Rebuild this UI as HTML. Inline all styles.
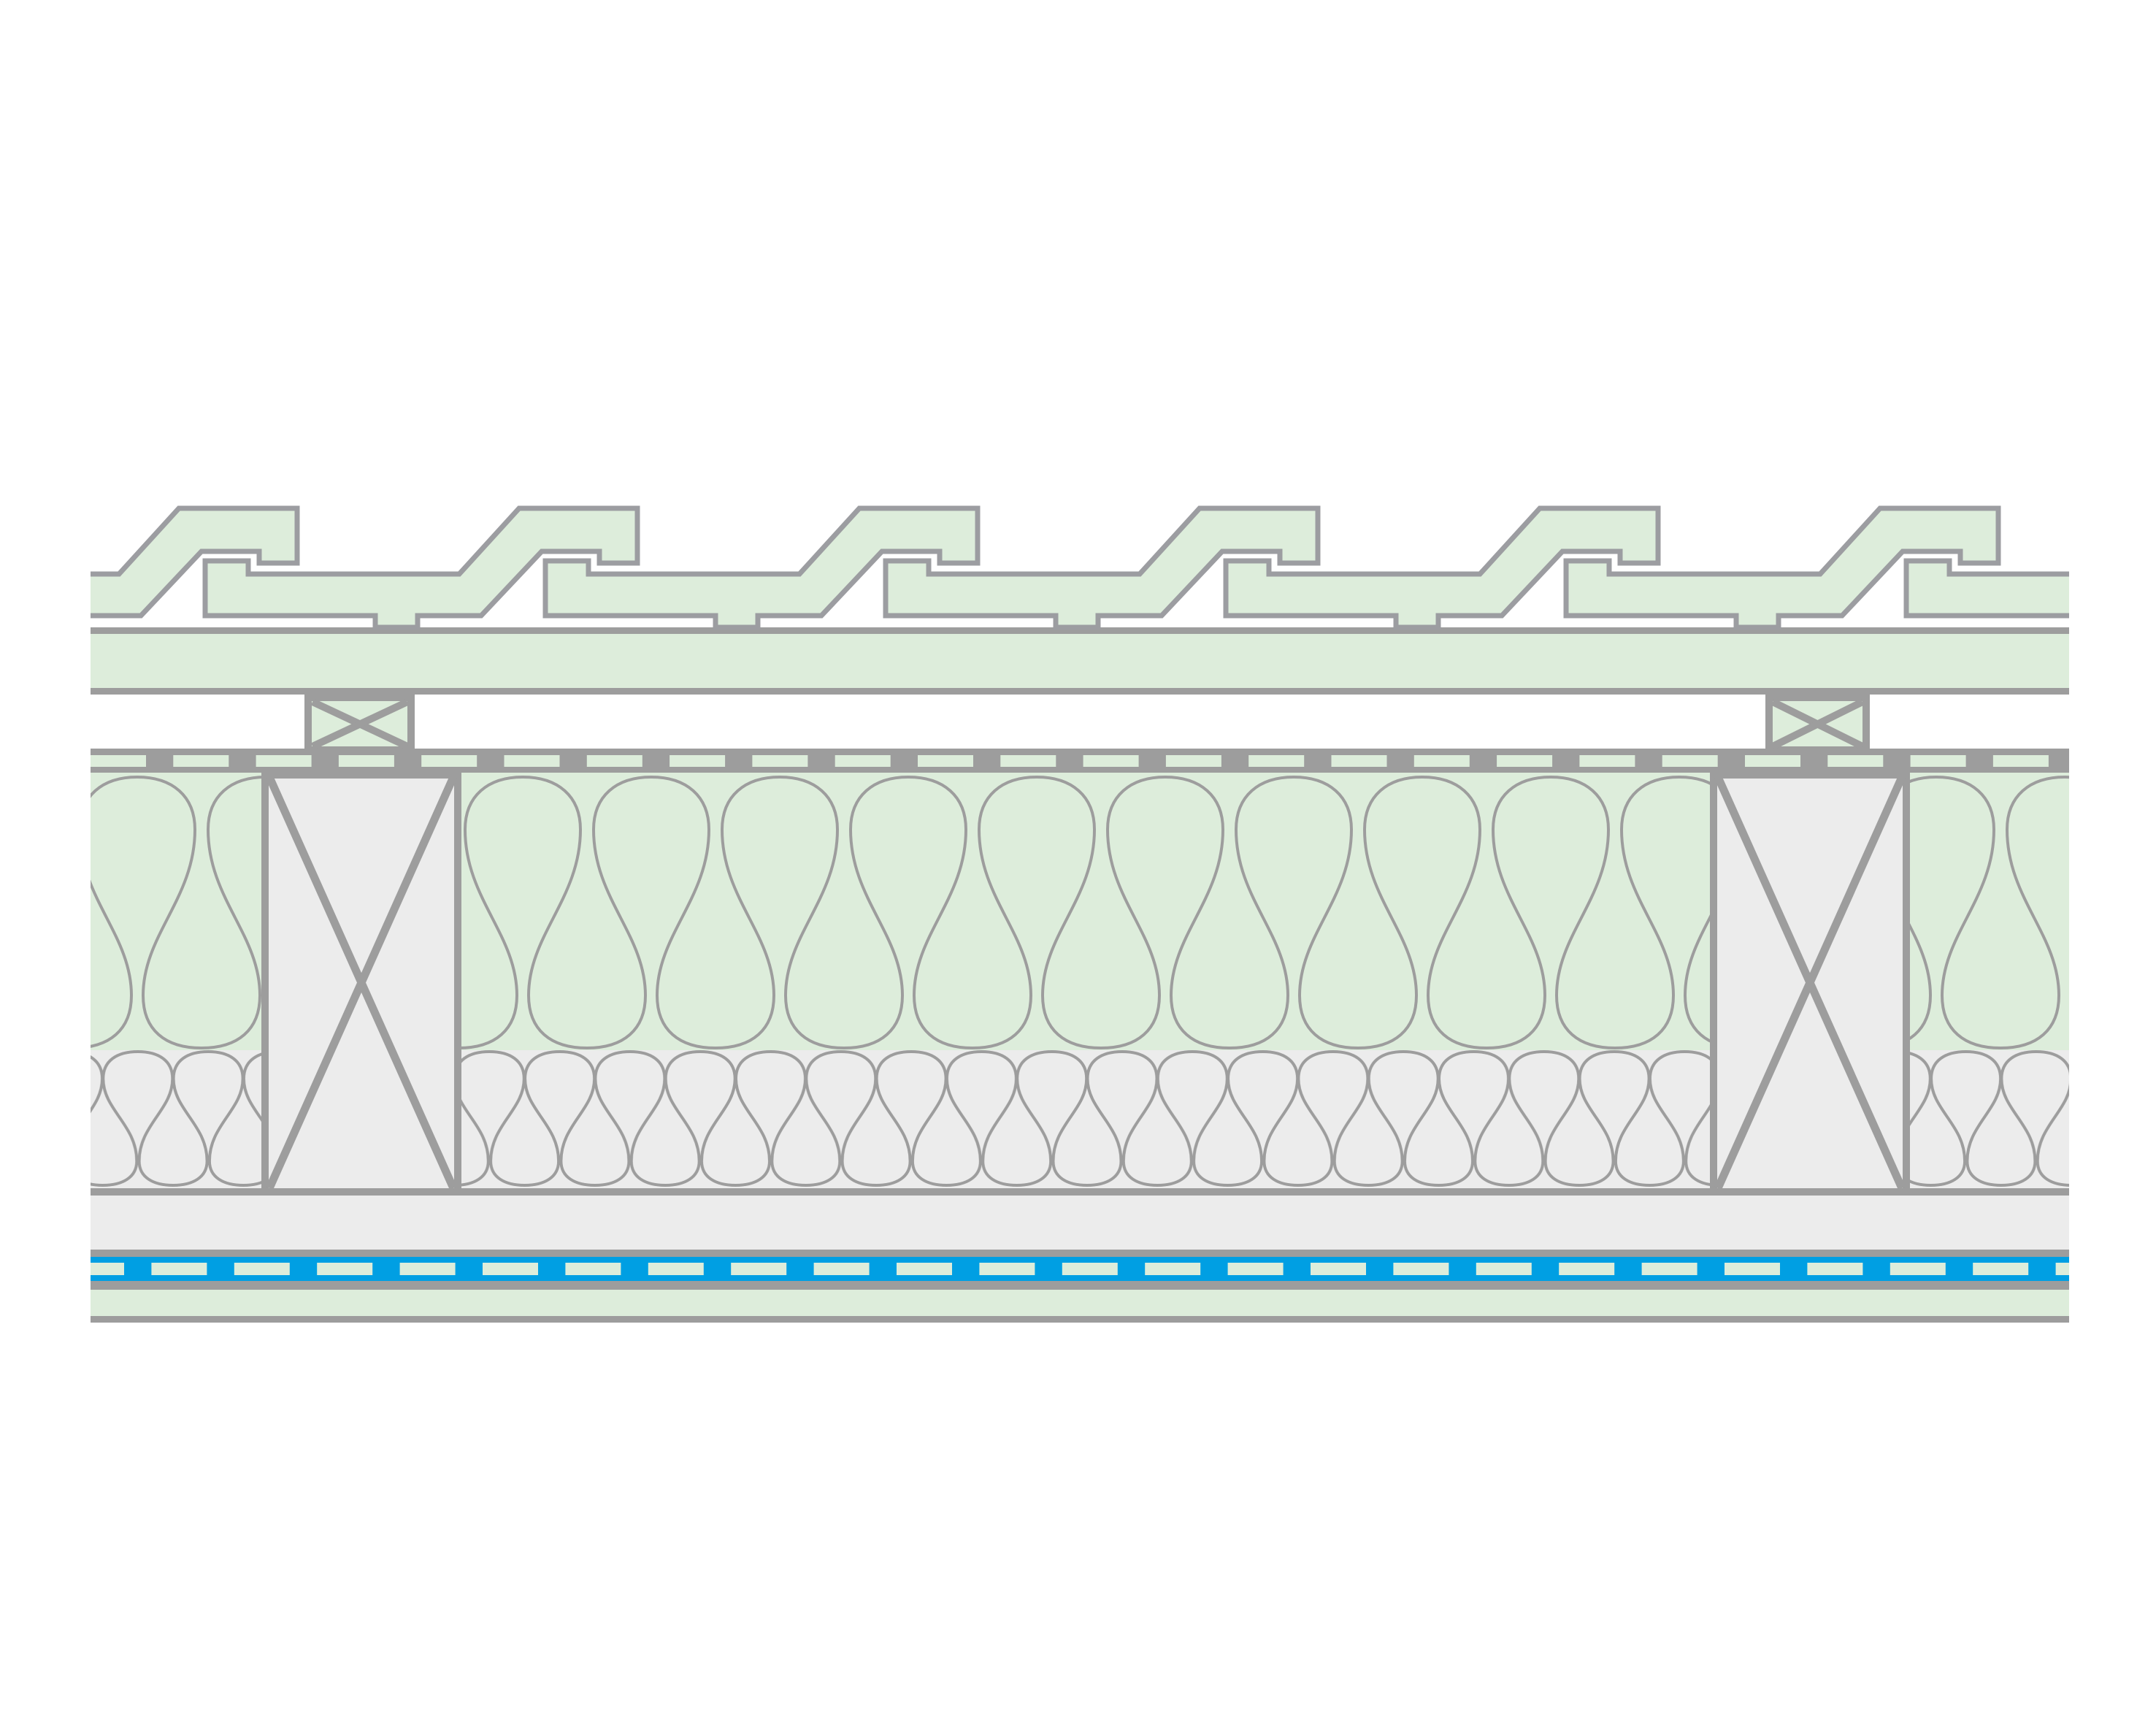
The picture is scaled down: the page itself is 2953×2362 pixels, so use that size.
<!DOCTYPE html>
<html><head><meta charset="utf-8"><style>html,body{margin:0;padding:0;background:#fff}svg{display:block}</style></head>
<body>
<svg width="2953" height="2362" viewBox="0 0 2953 2362" xmlns="http://www.w3.org/2000/svg">
<defs>
<clipPath id="cl"><rect x="124" y="0" width="2710" height="2362"/></clipPath>
<path id="tile" d="M0,768 H59 V786 H348 L430,696 H592 V771 H540 V755 H461 L378,843 H291 V859 H233 V843 H0 Z" fill="#ddeddb" stroke="#9c9da1" stroke-width="7"/>
<path id="up" d="M0,1435 C50,1435 80,1410 80,1363 C80,1280 9,1230 9,1136 C9,1090 40,1064 88,1064 C136,1064 167,1090 167,1136 C167,1230 96,1280 96,1363 C96,1410 126,1435 176,1435" fill="none" stroke="#9d9d9d" stroke-width="4"/>
<path id="lo" d="M0,1623 C27,1623 46.5,1612 46.5,1590 C46.5,1540 0.5,1520 0.5,1477 C0.5,1452 20,1440 48,1440 C76,1440 95.5,1452 95.5,1477 C95.5,1520 49.8,1540 49.8,1590 C49.8,1612 69,1623 96.3,1623" fill="none" stroke="#9d9d9d" stroke-width="4"/>
<pattern id="pu" patternUnits="userSpaceOnUse" x="100" y="0" width="176" height="2362">
<use href="#up" x="-176"/><use href="#up"/><use href="#up" x="176"/>
</pattern>
<pattern id="pl" patternUnits="userSpaceOnUse" x="44.5" y="0" width="96.3" height="2362">
<use href="#lo" x="-96.3"/><use href="#lo"/><use href="#lo" x="96.3"/>
</pattern>
</defs>
<g clip-path="url(#cl)">
<!-- board -->
<rect x="124" y="859" width="2710" height="92" fill="#9d9d9d"/>
<rect x="124" y="868" width="2710" height="74" fill="#ddeddb"/>
<!-- tiles -->
<use href="#tile" x="-185"/><use href="#tile" x="281"/><use href="#tile" x="747"/><use href="#tile" x="1213"/><use href="#tile" x="1679"/><use href="#tile" x="2145"/><use href="#tile" x="2611"/>
<!-- counter battens -->
<g fill="#ddeddb" stroke="#9d9d9d" stroke-width="10">
<rect x="422" y="955" width="141" height="72"/>
<line x1="428" y1="961" x2="558" y2="1022"/><line x1="558" y1="961" x2="428" y2="1022"/>
<rect x="2423" y="955" width="133" height="72"/>
<line x1="2428" y1="961" x2="2551" y2="1022"/><line x1="2551" y1="961" x2="2428" y2="1022"/>
</g>
<!-- dashed membrane -->
<rect x="124" y="1025" width="2710" height="33" fill="#9d9d9d"/>
<line x1="124" y1="1042" x2="2834" y2="1042" stroke="#ddeddb" stroke-width="16" stroke-dasharray="76 37.3"/>
<!-- insulation -->
<rect x="124" y="1058" width="2710" height="380" fill="#ddeddb"/>
<rect x="124" y="1058" width="2710" height="380" fill="url(#pu)"/>
<rect x="124" y="1438" width="2710" height="190" fill="#ececec"/>
<rect x="124" y="1438" width="2710" height="190" fill="url(#pl)"/>
<!-- rafters -->
<g fill="#ececec" stroke="#9d9d9d" stroke-width="10">
<rect x="363" y="1055" width="264" height="577"/>
<line x1="369" y1="1064" x2="621" y2="1627" stroke-width="11"/><line x1="621" y1="1064" x2="369" y2="1627" stroke-width="11"/>
<rect x="2347" y="1055" width="264" height="577"/>
<line x1="2353" y1="1064" x2="2605" y2="1627" stroke-width="11"/><line x1="2605" y1="1064" x2="2353" y2="1627" stroke-width="11"/>
</g>
<rect x="358" y="1050" width="274" height="16" fill="#9d9d9d"/>
<rect x="2342" y="1050" width="274" height="16" fill="#9d9d9d"/>
<!-- bottom layers -->
<rect x="124" y="1627" width="2710" height="10" fill="#9d9d9d"/>
<rect x="124" y="1637" width="2710" height="74" fill="#ececec"/>
<rect x="124" y="1711" width="2710" height="10" fill="#9d9d9d"/>
<rect x="124" y="1721" width="2710" height="33" fill="#009fe3"/>
<line x1="124" y1="1737.5" x2="2834" y2="1737.5" stroke="#ddeddb" stroke-width="17" stroke-dasharray="76 37.4" stroke-dashoffset="30"/>
<rect x="124" y="1754" width="2710" height="12" fill="#9d9d9d"/>
<rect x="124" y="1766" width="2710" height="36" fill="#ddeddb"/>
<rect x="124" y="1802" width="2710" height="9" fill="#9d9d9d"/>
</g>
</svg>
</body></html>
